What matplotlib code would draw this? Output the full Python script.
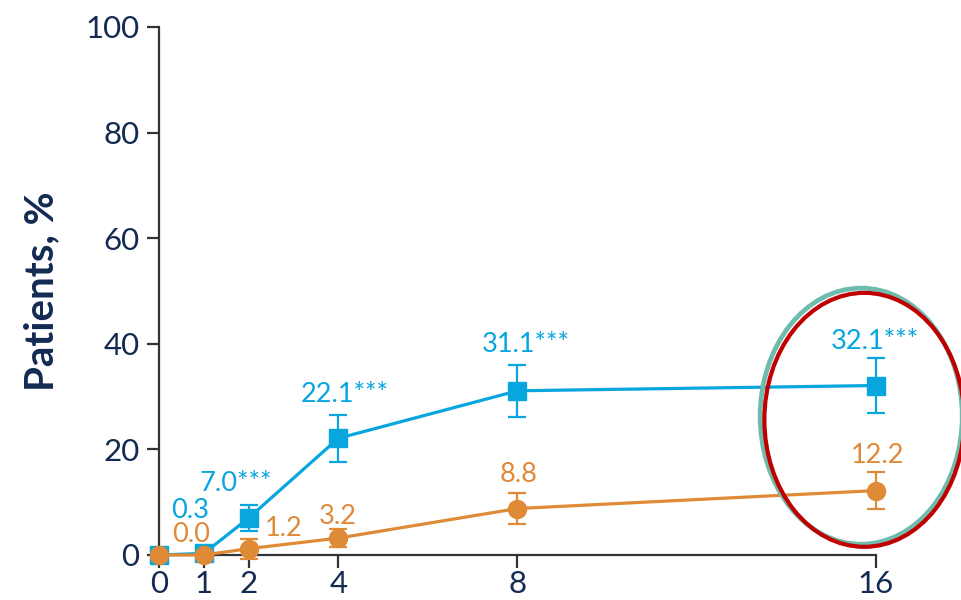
import matplotlib
matplotlib.use("Agg")
import matplotlib.pyplot as plt
from matplotlib.patches import Ellipse

# Visit (week) and response rates per arm
weeks = [0, 1, 2, 4, 8, 16]
blue_pct = [0.0, 0.3, 7.0, 22.1, 31.1, 32.1]
blue_err = [0.0, 0.0, 2.4, 4.4, 4.9, 5.2]
orange_pct = [0.0, 0.0, 1.2, 3.2, 8.8, 12.2]
orange_err = [0.0, 0.0, 1.9, 1.7, 2.9, 3.5]

blue_labels = ["", "0.3", "7.0***", "22.1***", "31.1***", "32.1***"]
orange_labels = ["", "0.0", "1.2", "3.2", "8.8", "12.2"]

y_ticks = [0, 20, 40, 60, 80, 100]

BLUE = "#07a6de"
ORANGE = "#df8a36"
NAVY = "#132a52"
AXIS = "#333333"

plt.rcParams["font.family"] = ["Lato", "DejaVu Sans"]

fig = plt.figure(figsize=(9.61, 6.0), dpi=100)
ax = fig.add_axes([0.1655, 0.075, 0.746, 0.88])

ax.errorbar(weeks, orange_pct, yerr=orange_err, color=ORANGE, lw=2.3,
            marker="o", ms=13, capsize=6.5, elinewidth=1.6, capthick=1.6,
            clip_on=False, zorder=3)
ax.errorbar(weeks, blue_pct, yerr=blue_err, color=BLUE, lw=2.3,
            marker="s", ms=12.5, capsize=6.5, elinewidth=1.6, capthick=1.6,
            clip_on=False, zorder=2)

# value labels: (dx, dy) offsets in pixels from each point, horizontal alignment
blue_off = [None, (-33, 43, "left"), (-49, 35, "left"), (-38, 44, "left"),
            (-36, 46, "left"), (-45, 44, "left")]
orange_off = [None, (-32, 21, "left"), (16, 20, "left"), (0, 22, "center"),
              (1, 34, "center"), (2, 35, "center")]

for x, y, lab, off in zip(weeks, blue_pct, blue_labels, blue_off):
    if lab:
        ax.annotate(lab, (x, y), xytext=off[:2], textcoords="offset pixels",
                    ha=off[2], va="center", color=BLUE, fontsize=19.5,
                    annotation_clip=False)
for x, y, lab, off in zip(weeks, orange_pct, orange_labels, orange_off):
    if lab:
        ax.annotate(lab, (x, y), xytext=off[:2], textcoords="offset pixels",
                    ha=off[2], va="center", color=ORANGE, fontsize=19.5,
                    annotation_clip=False)

# highlight ring around the final visit
ax.add_patch(Ellipse((15.67, 26.3), 4.51, 48.5, fill=False, ec="#6fbcae",
                     lw=3.4, clip_on=False, zorder=5))
ax.add_patch(Ellipse((15.74, 25.6), 4.46, 48.1, fill=False, ec="#c00000",
                     lw=3.0, clip_on=False, zorder=6))

ax.set_xlim(0, 16)
ax.set_ylim(0, 100)
ax.set_xticks(weeks)
ax.set_yticks(y_ticks)
ax.tick_params(axis="both", colors=AXIS, labelcolor=NAVY, labelsize=22.5,
               length=9, width=1.6, direction="out")
ax.tick_params(axis="x", pad=1.5)
ax.tick_params(axis="y", pad=5)

for side in ("top", "right"):
    ax.spines[side].set_visible(False)
for side in ("left", "bottom"):
    ax.spines[side].set_color(AXIS)
    ax.spines[side].set_linewidth(1.6)

ax.set_ylabel("Patients, %", fontsize=29, fontweight="bold", color=NAVY,
              labelpad=18)

fig.savefig("out.png", dpi=100)
